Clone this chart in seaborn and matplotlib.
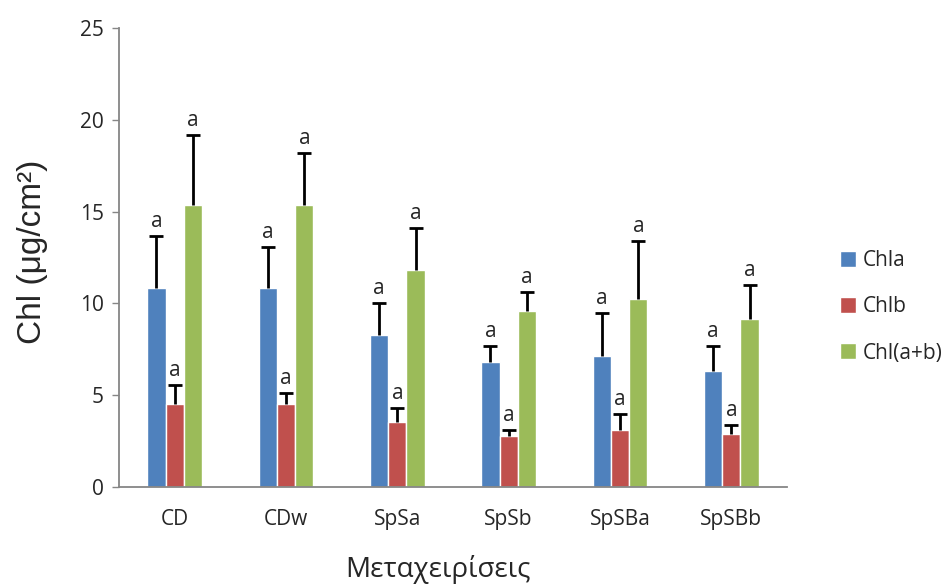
import pandas as pd
import seaborn as sns
import matplotlib.pyplot as plt

# data
treatments = ['CD', 'CDw', 'SpSa', 'SpSb', 'SpSBa', 'SpSBb']
series = ['Chla', 'Chlb', 'Chl(a+b)']
chla = [10.85, 10.85, 8.28, 6.80, 7.12, 6.32]
chlb = [4.52, 4.52, 3.54, 2.78, 3.10, 2.88]
chlab = [15.36, 15.36, 11.82, 9.58, 10.24, 9.15]
chla_err = [2.82, 2.22, 1.74, 0.88, 2.36, 1.36]
chlb_err = [1.04, 0.60, 0.76, 0.32, 0.88, 0.50]
chlab_err = [3.81, 2.83, 2.29, 1.04, 3.16, 1.85]
letters = ['a'] * 6

df = pd.DataFrame({
    'treatment': treatments * 3,
    'series': [s for s in series for _ in treatments],
    'value': chla + chlb + chlab,
    'err': chla_err + chlb_err + chlab_err,
})

sns.set_style('white')
plt.rcParams['font.family'] = ['Open Sans', 'DejaVu Sans']

fig = plt.figure(figsize=(9.43, 5.88), dpi=100)
ax = fig.add_axes([119 / 943, 1 - 487 / 588, 668 / 943, 459 / 588])

colors = ['#4F81BD', '#C0504D', '#9BBB59']
sns.barplot(data=df, x='treatment', y='value', hue='series', palette=colors,
            width=0.494, gap=0, errorbar=None, saturation=1, ax=ax)

# upper error bars only, then the letters
for i, s in enumerate(series):
    sub = df[df['series'] == s]
    bars = ax.containers[i]
    for bar, v, e, lt in zip(bars, sub['value'], sub['err'], letters):
        xc = bar.get_x() + bar.get_width() / 2
        ax.vlines(xc, v, v + e, color='black', lw=2)
        ax.plot(xc, v + e, marker='_', ms=10, mew=2, color='black')
        ax.text(xc, v + e + 0.2, lt, ha='center', va='bottom', fontsize=15)

ax.set_ylim(0, 25)
ax.set_yticks([0, 5, 10, 15, 20, 25])
ax.set_xlim(-0.5, 5.5)
ax.tick_params(axis='y', length=5, width=1, color='#868686', direction='out',
               labelsize=15, left=True, pad=6)
ax.tick_params(axis='x', length=0, labelsize=15, pad=16)
for side in ['top', 'right']:
    ax.spines[side].set_visible(False)
for side in ['left', 'bottom']:
    ax.spines[side].set_color('#868686')
    ax.spines[side].set_linewidth(1.3)

ax.set_ylabel('Chl (μg/cm²)', fontsize=24, family=['Liberation Sans', 'DejaVu Sans'])
ax.yaxis.set_label_coords(-0.106, 0.512)
ax.set_xlabel('Μεταχειρίσεις', fontsize=20)
ax.xaxis.set_label_coords(0.478, -0.148)

leg = ax.legend(loc='center left', bbox_to_anchor=(830 / 943, 1 - 307 / 588),
                bbox_transform=fig.transFigure, frameon=False, borderpad=0,
                fontsize=15, handlelength=0.77, handleheight=0.77,
                labelspacing=1.2, handletextpad=0.3)

plt.savefig('out.png', dpi=100)
